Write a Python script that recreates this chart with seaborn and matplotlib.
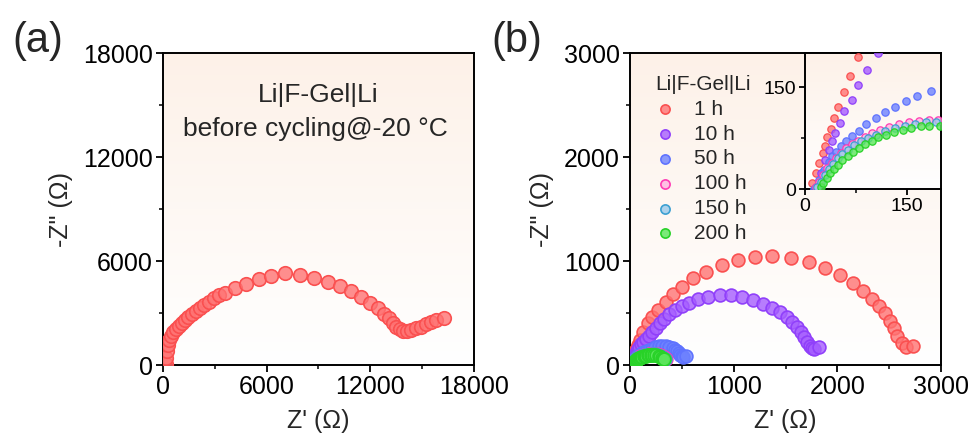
import numpy as np
import pandas as pd
import matplotlib
matplotlib.use("Agg")
import matplotlib.pyplot as plt
import seaborn as sns
from matplotlib.ticker import MultipleLocator

# ---- datos panel (a): Li|F-Gel|Li antes del ciclado, -20 C ----
a_zre = [160, 180, 215, 290, 370, 480, 600, 750, 905, 1080, 1270, 1465, 1680, 1910,
         2140, 2390, 2680, 2950, 3260, 3610, 4150, 4820, 5540, 6270, 7040, 7910, 8720,
         9550, 10220, 10860, 11440, 11960, 12440, 12790, 13080, 13310, 13500, 13700,
         13890, 14120, 14370, 14660, 14950, 15240, 15530, 15820, 16240]
a_zim = [60, 420, 800, 1150, 1440, 1670, 1880, 2080, 2270, 2440, 2610, 2790, 2940, 3110,
         3290, 3440, 3630, 3850, 4020, 4170, 4460, 4690, 4940, 5130, 5290, 5170, 5000,
         4790, 4560, 4270, 3940, 3600, 3270, 2960, 2690, 2440, 2210, 2060, 1960, 1960,
         2020, 2110, 2210, 2350, 2480, 2580, 2690]

# ---- datos panel (b): tiempos de reposo ----
labels_b = ["1 h", "10 h", "50 h", "100 h", "150 h", "200 h"]

zre_1h = [11, 16, 21, 26, 30, 33, 38, 43, 49, 57, 66, 78, 100, 128, 170, 215, 273, 344, 418,
          505, 611, 730, 884, 1039, 1206, 1366, 1550, 1723, 1881, 2026, 2148, 2251, 2338,
          2405, 2460, 2508, 2547, 2579, 2621, 2662, 2733]
zim_1h = [9, 24, 38, 53, 63, 76, 88, 104, 121, 143, 166, 194, 245, 320, 401, 465, 529, 609,
          683, 753, 840, 897, 962, 1010, 1042, 1048, 1026, 987, 930, 862, 792, 715, 638,
          567, 497, 426, 353, 279, 215, 176, 183]

zre_10h = [16, 24, 30, 35, 40, 44, 51, 58, 69, 78, 91, 107, 128, 151, 183, 215, 251, 289,
           331, 379, 434, 498, 572, 659, 756, 868, 974, 1077, 1190, 1286, 1373, 1447, 1511,
           1566, 1608, 1646, 1678, 1711, 1735, 1755, 1775, 1820]
zim_10h = [3, 23, 43, 58, 71, 83, 97, 114, 131, 153, 175, 200, 225, 250, 280, 317, 359, 404,
           446, 487, 526, 564, 596, 631, 651, 673, 673, 657, 625, 590, 550, 510, 465, 417,
           369, 320, 272, 224, 185, 160, 150, 170]

zre_50h = [14, 21, 28, 35, 40, 46, 53, 60, 69, 79, 90, 104, 117, 132, 148, 165, 185, 215,
           245, 275, 310, 345, 380, 410, 437, 458, 474, 486, 498, 510, 540]
zim_50h = [0, 13, 28, 39, 48, 55, 63, 70, 78, 85, 95, 104, 113, 121, 129, 137, 144, 157,
           170, 180, 186, 185, 178, 165, 148, 130, 112, 96, 84, 78, 82]

zre_100h = [16, 21, 27, 33, 40, 46, 53, 60, 69, 78, 88, 99, 111, 124, 138, 153, 167, 182,
            195, 215, 240, 265, 290, 310, 325, 338, 350]
zim_100h = [3, 11, 21, 31, 38, 46, 53, 60, 66, 71, 77, 82, 87, 91, 95, 98, 100, 102, 102,
            106, 108, 106, 98, 88, 76, 65, 60]

zre_150h = [18, 23, 29, 35, 41, 48, 55, 63, 72, 82, 93, 105, 118, 132, 147, 162, 178, 193,
            215, 240, 265, 288, 308, 322, 335]
zim_150h = [3, 11, 20, 29, 37, 45, 52, 58, 64, 70, 75, 80, 85, 89, 93, 96, 98, 99, 102, 102,
            97, 89, 77, 66, 58]

zre_200h = [23, 27, 32, 37, 43, 49, 55, 63, 70, 79, 88, 98, 108, 119, 131, 144, 156, 170,
            183, 198, 215, 235, 255, 275, 292, 305, 315, 331]
zim_200h = [3, 9, 16, 23, 29, 36, 43, 49, 55, 61, 66, 71, 76, 80, 84, 87, 89, 92, 92, 93,
            96, 98, 96, 90, 81, 71, 62, 58]

series_b = [(zre_1h, zim_1h), (zre_10h, zim_10h), (zre_50h, zim_50h),
            (zre_100h, zim_100h), (zre_150h, zim_150h), (zre_200h, zim_200h)]

# colores (relleno semitransparente, borde sólido)
face_cols = [(1.0, 0.45, 0.45, 0.8), (0.65, 0.37, 1.0, 0.8), (0.43, 0.51, 1.0, 0.8),
             (1.0, 0.70, 0.88, 0.8), (0.60, 0.79, 0.92, 0.8), (0.36, 0.90, 0.36, 0.8)]
edge_cols = ["#fa5050", "#9040fa", "#5f73ff", "#ff3cb4", "#3ca0d2", "#28d228"]

sns.set_style("ticks")
plt.rcParams['font.family'] = ['Liberation Sans', 'DejaVu Sans']
plt.rcParams['mathtext.default'] = 'regular'

fig = plt.figure(figsize=(9.73, 4.41), dpi=100)
ax_a = fig.add_axes([0.1675, 0.1723, 0.3196, 0.7075])
ax_b = fig.add_axes([0.6475, 0.1723, 0.3196, 0.7075])
ax_in = fig.add_axes([0.8273, 0.5714, 0.1398, 0.3084])

# fondo degradado (melocotón arriba -> blanco abajo)
grad = np.linspace(0, 1, 256).reshape(-1, 1)
top = np.array([253, 241, 232]) / 255
bot = np.array([255, 255, 255]) / 255
grad_img = bot + (top - bot) * grad[:, :, None]


def style_axis(ax, lim, major, fs):
    ax.imshow(grad_img, extent=[0, 1, 0, 1], transform=ax.transAxes, origin='lower',
              aspect='auto', zorder=0)
    ax.set_xlim(0, lim)
    ax.set_ylim(0, lim)
    ax.xaxis.set_major_locator(MultipleLocator(major))
    ax.yaxis.set_major_locator(MultipleLocator(major))
    ax.xaxis.set_minor_locator(MultipleLocator(major / 2))
    ax.yaxis.set_minor_locator(MultipleLocator(major / 2))
    ax.tick_params(which='major', direction='out', length=5, width=1.3, labelsize=fs,
                   pad=2.5, colors='black')
    ax.tick_params(which='minor', direction='out', length=3, width=1.3)
    for sp in ax.spines.values():
        sp.set_linewidth(1.4)
        sp.set_color('black')
        sp.set_visible(True)


# ---- panel (a) ----
sns.scatterplot(x=a_zre, y=a_zim, ax=ax_a, s=95, linewidth=1.2,
                color=edge_cols[0], edgecolor=edge_cols[0], zorder=3)
ax_a.collections[-1].set_facecolor(face_cols[0])
style_axis(ax_a, 18000, 6000, 18)
ax_a.set_xlabel("Z' (Ω)", fontsize=18, labelpad=7)
ax_a.set_ylabel('-Z" (Ω)', fontsize=18, labelpad=7)
ax_a.text(0.5, 0.865, "Li|F-Gel|Li", transform=ax_a.transAxes, ha='center', va='center',
          fontsize=19)
ax_a.text(0.49, 0.755, "before cycling@-20 °C", transform=ax_a.transAxes, ha='center',
          va='center', fontsize=19)

# ---- panel (b) ----
for (zr, zi), lab, fc, ec in zip(series_b, labels_b, face_cols, edge_cols):
    sns.scatterplot(x=zr, y=zi, ax=ax_b, s=85, linewidth=1.2, color=ec, edgecolor=ec,
                    label=lab, zorder=3)
    ax_b.collections[-1].set_facecolor(fc)
style_axis(ax_b, 3000, 1000, 18)
ax_b.set_xlabel("Z' (Ω)", fontsize=18, labelpad=7)
ax_b.set_ylabel('-Z" (Ω)', fontsize=18, labelpad=7)
leg = ax_b.legend(title="Li|F-Gel|Li", loc='upper left', bbox_to_anchor=(0.02, 0.99),
                  frameon=False, fontsize=15, title_fontsize=15, markerscale=0.72,
                  handlelength=1.0, handletextpad=0.85, labelspacing=0.28,
                  alignment='left', borderpad=0.4)

# ---- recuadro (zoom cerca del origen) ----
for (zr, zi), fc, ec in zip(series_b, face_cols, edge_cols):
    sns.scatterplot(x=zr, y=zi, ax=ax_in, s=28, linewidth=0.9, color=ec, edgecolor=ec,
                    zorder=3, legend=False)
    ax_in.collections[-1].set_facecolor(fc)
style_axis(ax_in, 200, 150, 14)
ax_in.tick_params(which='major', length=4)
ax_in.tick_params(which='minor', length=3)
ax_in.set_xlabel("")
ax_in.set_ylabel("")

fig.text(0.039, 0.907, "(a)", fontsize=30, ha='center', va='center')
fig.text(0.531, 0.907, "(b)", fontsize=30, ha='center', va='center')

fig.savefig("out.png", dpi=100)
